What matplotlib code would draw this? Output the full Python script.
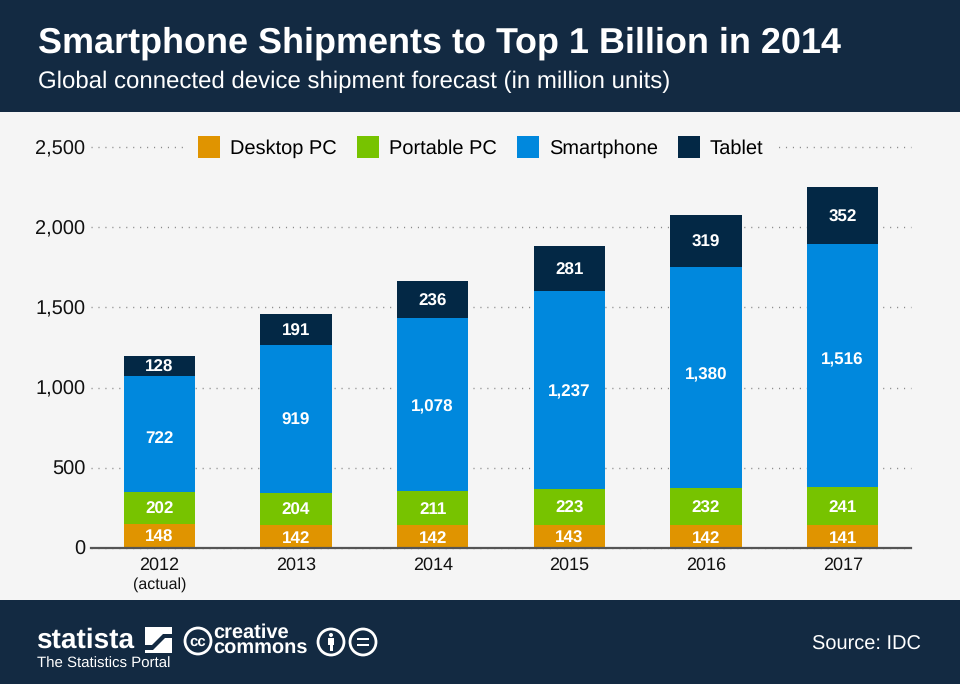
import matplotlib
matplotlib.use("Agg")
import matplotlib.pyplot as plt
from matplotlib.patches import Rectangle, Circle, Polygon

years = ["2012", "2013", "2014", "2015", "2016", "2017"]
desktop = [148, 142, 142, 143, 142, 141]
portable = [202, 204, 211, 223, 232, 241]
smartphone = [722, 919, 1078, 1237, 1380, 1516]
tablet = [128, 191, 236, 281, 319, 352]
series_names = ["Desktop PC", "Portable PC", "Smartphone", "Tablet"]
y_ticks = [0, 500, 1000, 1500, 2000, 2500]

navy = "#132a42"
bg = "#f5f5f5"
colors = ["#e09400", "#77c300", "#0088dd", "#032845"]

plt.rcParams["font.family"] = ["Liberation Sans", "DejaVu Sans"]
plt.rcParams["text.hinting"] = "no_hinting"
plt.rcParams["text.hinting_factor"] = 1

fig = plt.figure(figsize=(9.6, 6.84), dpi=100, facecolor=bg)

# overlay in pixel coordinates for the header and footer
bgax = fig.add_axes([0, 0, 1, 1], zorder=0)
bgax.set_xlim(0, 960)
bgax.set_ylim(684, 0)
bgax.axis("off")
bgax.add_patch(Rectangle((0, 0), 960, 112, color=navy, lw=0))
bgax.add_patch(Rectangle((0, 600), 960, 84, color=navy, lw=0))
bgax.text(38, 43, "Smartphone Shipments to Top 1 Billion in 2014", color="white",
          fontsize=25.9, fontweight="bold", va="center", ha="left")
bgax.text(38, 81.5, "Global connected device shipment forecast (in million units)",
          color="white", fontsize=17.3, va="center", ha="left")
bgax.text(921, 645, "Source: IDC", color="white", fontsize=14.2, va="center", ha="right")

# statista logo
bgax.text(36, 640, "statista", color="white", fontsize=20.5, fontweight="bold", va="center", ha="left")
bgax.text(37, 664, "The Statistics Portal", color="white", fontsize=10.7, va="center", ha="left")
bgax.add_patch(Rectangle((145, 627), 27, 26, color="white", lw=0))
bgax.add_patch(Polygon([(145, 645), (152, 645), (163, 634), (172, 634), (172, 638), (165, 638),
                        (153, 650), (145, 650)], color=navy, lw=0))

# creative commons
bgax.add_patch(Circle((198, 641), 13, fc="none", ec="white", lw=2))
bgax.text(198, 641.5, "cc", color="white", fontsize=11, fontweight="bold", va="center", ha="center")
bgax.text(213, 640, "creative\ncommons", color="white", fontsize=14.6, fontweight="bold", va="center",
          ha="left", linespacing=0.72)
bgax.add_patch(Circle((331, 642), 13, fc="none", ec="white", lw=2))
bgax.add_patch(Circle((331, 635), 2, color="white", lw=0))
bgax.add_patch(Rectangle((328, 638), 6, 7, color="white", lw=0))
bgax.add_patch(Rectangle((329.5, 644), 3, 7, color="white", lw=0))
bgax.add_patch(Circle((363, 642), 13, fc="none", ec="white", lw=2))
bgax.add_patch(Rectangle((357, 638), 12, 2.2, color="white", lw=0))
bgax.add_patch(Rectangle((357, 644), 12, 2.2, color="white", lw=0))

# main chart
ax = fig.add_axes([91 / 960, (684 - 548) / 684, 820 / 960, 401 / 684], zorder=1)
ax.patch.set_alpha(0)
x = range(len(years))
bottom = [0] * len(years)
for vals, name, c in zip([desktop, portable, smartphone, tablet], series_names, colors):
    bars = ax.bar(x, vals, width=0.52, bottom=bottom, color=c, label=name, zorder=3)
    labels = ax.bar_label(bars, labels=[f"{v:,}" for v in vals], label_type="center", color="white",
                          fontsize=11.9, fontweight="bold", zorder=4)
    for t in labels:
        t.xyann = (0, -1.2)
    bottom = [b + v for b, v in zip(bottom, vals)]
    if name == "Smartphone":
        # labels in the blue segments are not quite centred in the original
        labels[0].xyann = (0, -3)
        labels[4].xyann = (0, 1.5)
        labels[5].xyann = (0, 4)

ax.set_xlim(-0.5, 5.5)
ax.set_ylim(0, 2500)
ax.set_yticks(y_ticks)
ax.set_yticklabels([f"{v:,}" for v in y_ticks])
ax.set_xticks(list(x))
ax.set_xticklabels(years)
ax.tick_params(axis="both", length=0, labelcolor="#111111")
ax.tick_params(axis="y", pad=4, labelsize=14.6)
ax.tick_params(axis="x", pad=6.5, labelsize=13.2)
ax.grid(axis="y", color="#8a8a8a", linestyle=(0, (0.8, 4.2)), linewidth=1, zorder=1, clip_on=False)
for s in ["top", "left", "right"]:
    ax.spines[s].set_visible(False)
ax.spines["bottom"].set_color("#555555")
ax.spines["bottom"].set_linewidth(1.6)
ax.spines["bottom"].set_zorder(5)
ax.text(0, -0.092, "(actual)", transform=ax.get_xaxis_transform(), ha="center", va="center",
        fontsize=11.4, color="#111111")

leg = ax.legend(loc="center", bbox_to_anchor=((481 - 91) / 820, 1.0), ncol=4, frameon=True, fontsize=14.4,
                facecolor=bg, edgecolor=bg, framealpha=1, fancybox=False, handlelength=1.1, handleheight=1.3,
                handletextpad=0.5, columnspacing=1.0, borderpad=0.65, borderaxespad=0)
leg.set_zorder(2)

fig.savefig("out.png", dpi=100, facecolor=bg)
